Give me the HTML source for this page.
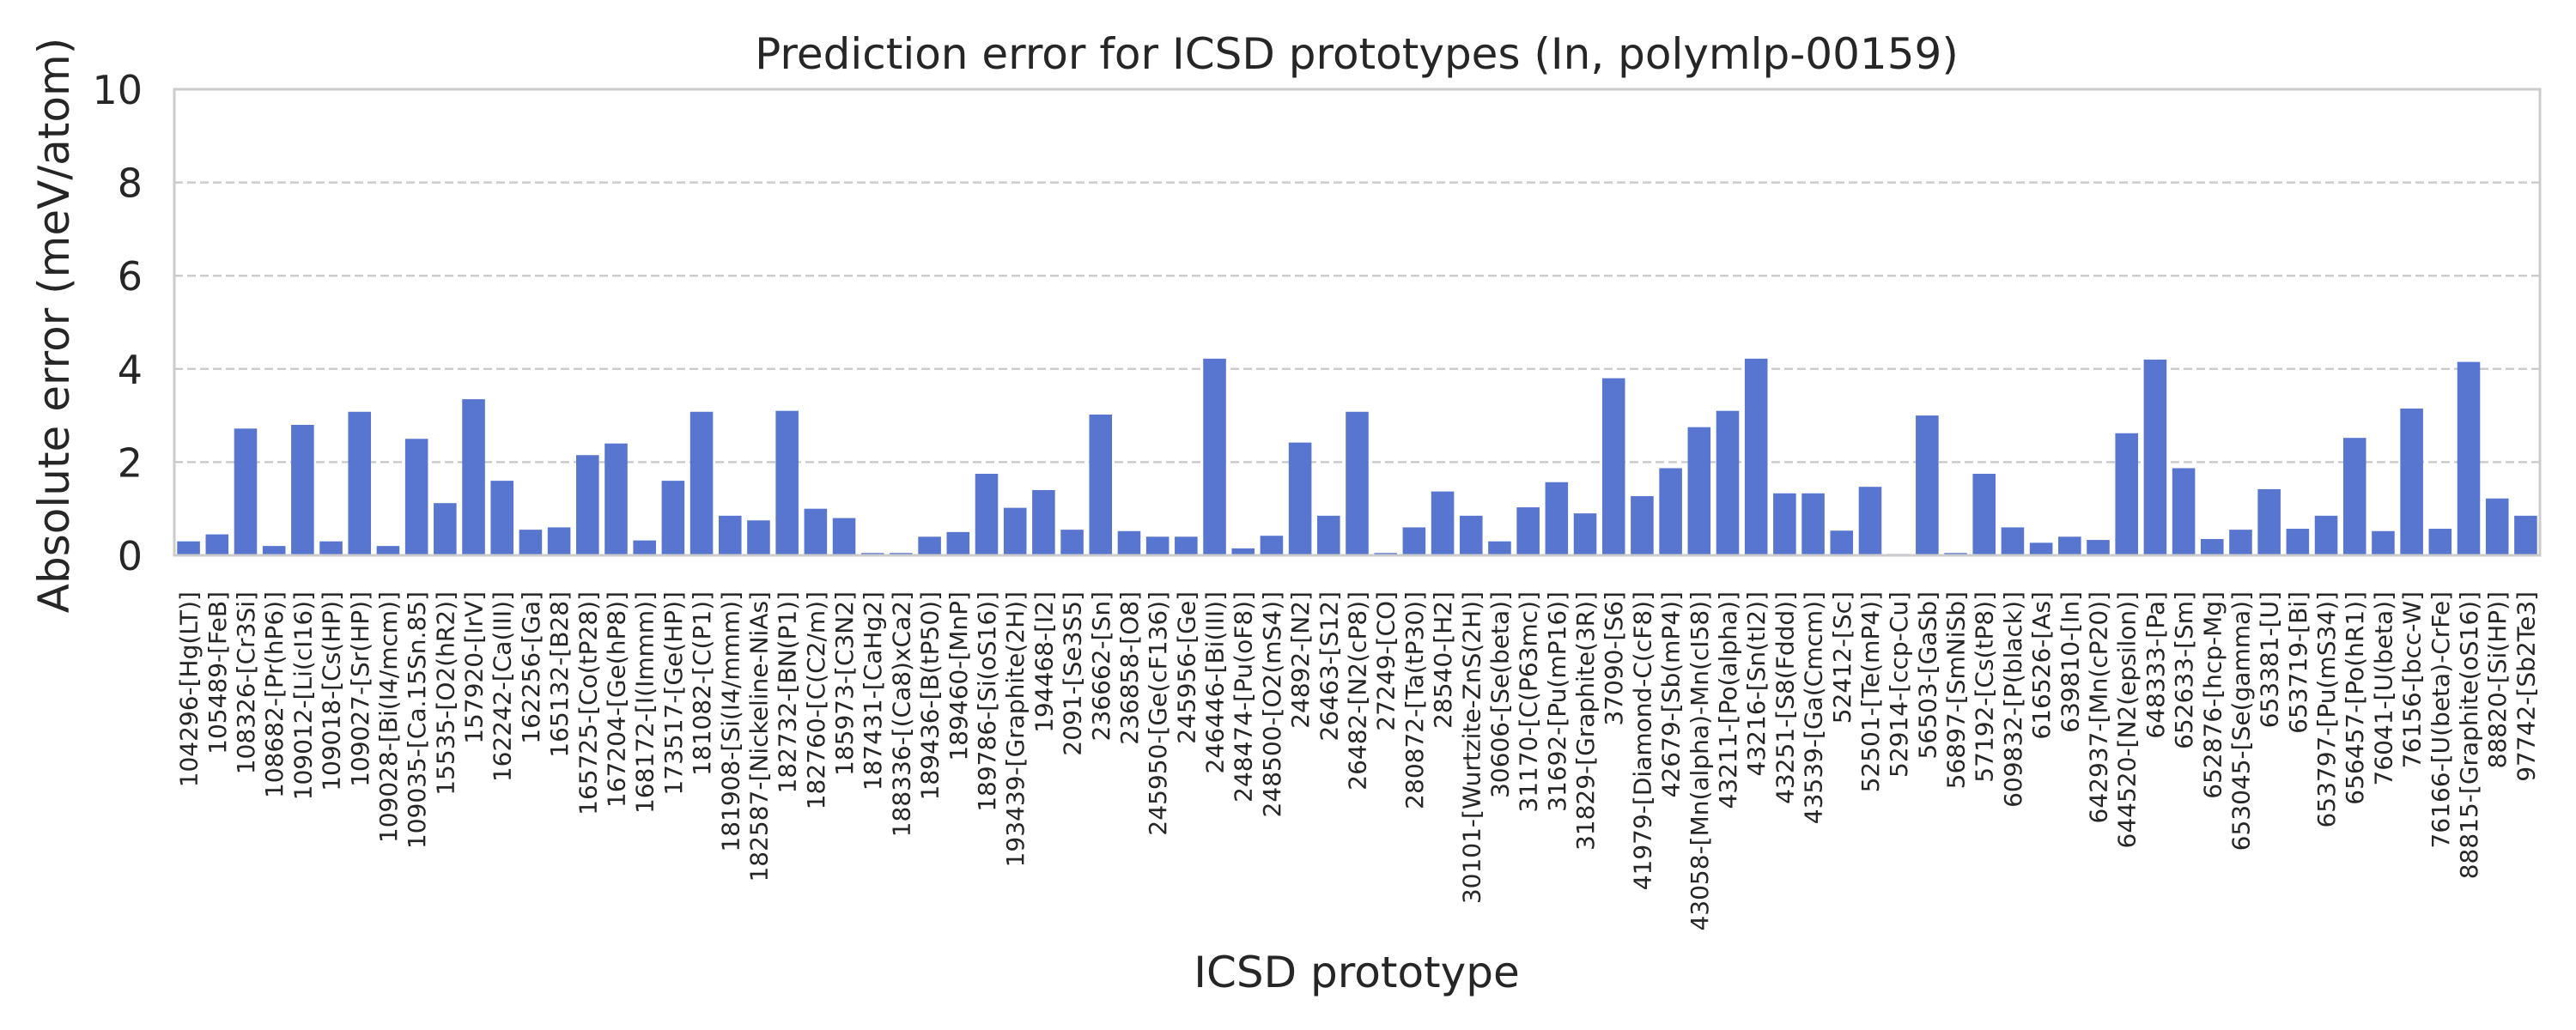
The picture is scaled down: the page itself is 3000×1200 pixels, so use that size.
<!DOCTYPE html>
<html><head><meta charset="utf-8"><style>
html,body{margin:0;padding:0;background:#fff;}
svg{display:block;font-family:"DejaVu Sans","Liberation Sans",sans-serif;}
</style></head><body>
<svg id="chart" width="3000" height="1200" viewBox="0 0 3000 1200" xmlns="http://www.w3.org/2000/svg">
<rect width="3000" height="1200" fill="#fff"/>
<text x="1580" y="80" font-size="50" text-anchor="middle" fill="#262626">Prediction error for ICSD prototypes (In, polymlp-00159)</text>
<g id="grid"></g>
<g id="bars"></g>
<rect x="203" y="104" width="2755" height="543" fill="none" stroke="#cccccc" stroke-width="3"/>
<g id="yticks"></g>
<g id="xticks"></g>
<text transform="translate(80,379) rotate(-90)" font-size="50" text-anchor="middle" fill="#262626">Absolute error (meV/atom)</text>
<text x="1580" y="1150" font-size="50" text-anchor="middle" fill="#262626">ICSD prototype</text>
</svg>
<script>
const categories = ["104296-[Hg(LT)]","105489-[FeB]","108326-[Cr3Si]","108682-[Pr(hP6)]","109012-[Li(cI16)]","109018-[Cs(HP)]","109027-[Sr(HP)]","109028-[Bi(I4/mcm)]","109035-[Ca.15Sn.85]","15535-[O2(hR2)]","157920-[IrV]","162242-[Ca(III)]","162256-[Ga]","165132-[B28]","165725-[Co(tP28)]","167204-[Ge(hP8)]","168172-[I(Immm)]","173517-[Ge(HP)]","181082-[C(P1)]","181908-[Si(I4/mmm)]","182587-[Nickeline-NiAs]","182732-[BN(P1)]","182760-[C(C2/m)]","185973-[C3N2]","187431-[CaHg2]","188336-[(Ca8)xCa2]","189436-[B(tP50)]","189460-[MnP]","189786-[Si(oS16)]","193439-[Graphite(2H)]","194468-[I2]","2091-[Se3S5]","236662-[Sn]","236858-[O8]","245950-[Ge(cF136)]","245956-[Ge]","246446-[Bi(III)]","248474-[Pu(oF8)]","248500-[O2(mS4)]","24892-[N2]","26463-[S12]","26482-[N2(cP8)]","27249-[CO]","280872-[Ta(tP30)]","28540-[H2]","30101-[Wurtzite-ZnS(2H)]","30606-[Se(beta)]","31170-[C(P63mc)]","31692-[Pu(mP16)]","31829-[Graphite(3R)]","37090-[S6]","41979-[Diamond-C(cF8)]","42679-[Sb(mP4)]","43058-[Mn(alpha)-Mn(cI58)]","43211-[Po(alpha)]","43216-[Sn(tI2)]","43251-[S8(Fddd)]","43539-[Ga(Cmcm)]","52412-[Sc]","52501-[Te(mP4)]","52914-[ccp-Cu]","56503-[GaSb]","56897-[SmNiSb]","57192-[Cs(tP8)]","609832-[P(black)]","616526-[As]","639810-[In]","642937-[Mn(cP20)]","644520-[N2(epsilon)]","648333-[Pa]","652633-[Sm]","652876-[hcp-Mg]","653045-[Se(gamma)]","653381-[U]","653719-[Bi]","653797-[Pu(mS34)]","656457-[Po(hR1)]","76041-[U(beta)]","76156-[bcc-W]","76166-[U(beta)-CrFe]","88815-[Graphite(oS16)]","88820-[Si(HP)]","97742-[Sb2Te3]"];
const errors = [0.3,0.45,2.72,0.2,2.8,0.3,3.08,0.2,2.5,1.12,3.35,1.6,0.55,0.6,2.15,2.4,0.32,1.6,3.08,0.85,0.75,3.1,1.0,0.8,0.05,0.05,0.4,0.5,1.75,1.02,1.4,0.55,3.02,0.52,0.4,0.4,4.22,0.15,0.42,2.42,0.85,3.08,0.05,0.6,1.37,0.85,0.3,1.03,1.57,0.9,3.8,1.27,1.87,2.75,3.1,4.22,1.33,1.33,0.53,1.47,0.03,3.0,0.05,1.75,0.6,0.27,0.4,0.33,2.62,4.2,1.87,0.35,0.55,1.42,0.57,0.85,2.52,0.52,3.15,0.57,4.15,1.22,0.85];
const yTicks = [0,2,4,6,8,10];

const L=203,R=2958,T=104,B=647,yMax=10;
const ns="http://www.w3.org/2000/svg";
const band=(R-L)/categories.length;
const xc=i=>L+band*(i+0.5);
const y=v=>B-(v/yMax)*(B-T);
function mk(tag,attrs,parent){const e=document.createElementNS(ns,tag);for(const k in attrs)e.setAttribute(k,attrs[k]);parent.appendChild(e);return e;}
const grid=document.getElementById('grid'),bars=document.getElementById('bars'),yt=document.getElementById('yticks'),xt=document.getElementById('xticks');
yTicks.forEach(t=>{
  if(t>0&&t<yMax){const g=mk('line',{x1:L,x2:R,y1:y(t),y2:y(t),stroke:'#cccccc','stroke-width':2.5,'stroke-dasharray':'10,5'},grid);
  
  }
  const tx=mk('text',{x:166,y:y(t)+17,'font-size':46,'text-anchor':'end',fill:'#262626'},yt);
  tx.textContent=t;
  
  
});
categories.forEach((c,i)=>{
  const w=band*0.8;
  const r=mk('rect',{x:xc(i)-w/2,y:y(errors[i]),width:w,height:B-y(errors[i]),fill:'#5875cf'},bars);
  
  
  const tx=mk('text',{transform:'translate('+(xc(i)+10)+',689) rotate(-90)','font-size':28,'text-anchor':'end',fill:'#262626'},xt);
  tx.textContent=c;
  
  
});
</script>
</body></html>
